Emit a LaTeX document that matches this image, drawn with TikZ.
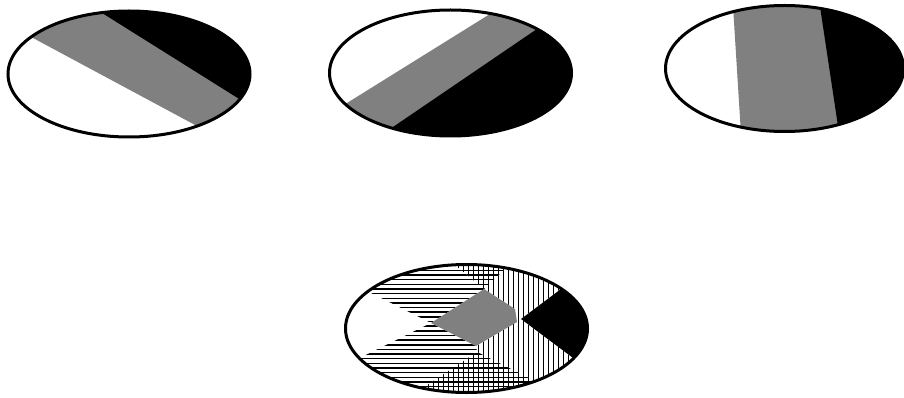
\documentclass[tikz,border=0pt]{standalone}
\tikzset{
  outl/.style={line width=3pt},
  hatch/.style={line width=1.5pt},
}
\newcommand\myHlines{\foreach \k in {-4,...,30} \draw[hatch] (320,{275+4.65*\k}) -- (660,{275+4.65*\k});}
\newcommand\myVlines{\foreach \k in {-35,...,30} \draw[hatch] ({508.3+5*\k},250) -- ({508.3+5*\k},410);}
\begin{document}
\begin{tikzpicture}[x=1pt,y=-1pt]
\useasboundingbox (0,0) rectangle (904,398);
% ---------- ellipse 1 ----------
\begin{scope}
  \clip (129,74) ellipse [x radius=121, y radius=63];
  \fill[white] (0,-10) rectangle (260,160);
  \fill[gray] (0,20.3) -- (260,159.8) -- (260,-10) -- (0,-10) -- cycle;
  \fill[black] (65.4,-10) -- (260,112) -- (260,-10) -- cycle;
\end{scope}
\draw[outl] (129,74) ellipse [x radius=121, y radius=63];
% ---------- ellipse 2 ----------
\begin{scope}
  \clip (450.5,73) ellipse [x radius=121, y radius=63];
  \fill[white] (320,-10) rectangle (590,180);
  \fill[gray] (320,119.8) -- (580,-42) -- (580,180) -- (320,180) -- cycle;
  \fill[black] (320,176.7) -- (580,-0.3) -- (580,180) -- (320,180) -- cycle;
\end{scope}
\draw[outl] (450.5,73) ellipse [x radius=121, y radius=63];
% ---------- ellipse 3 ----------
\begin{scope}
  \clip (784.5,68.5) ellipse [x radius=119, y radius=63];
  \fill[white] (650,-10) rectangle (910,150);
  \fill[gray] (732,-10) -- (742,150) -- (910,150) -- (910,-10) -- cycle;
  \fill[black] (817.5,-10) -- (841.6,150) -- (910,150) -- (910,-10) -- cycle;
\end{scope}
\draw[outl] (784.5,68.5) ellipse [x radius=119, y radius=63];
% ---------- ellipse 4 (superposition) ----------
\begin{scope}
  \clip (466.5,328.5) ellipse [x radius=121, y radius=64];
  \fill[white] (330,250) rectangle (660,410);
  % upper horizontal hatch
  \begin{scope}
    \clip (431,323) -- (330,272.5) -- (330,250) -- (437,250) -- (484,289) -- cycle;
    \myHlines
  \end{scope}
  % lower horizontal hatch
  \begin{scope}
    \clip (431,323) -- (476,346) -- (477,352) -- (397,405) -- (330,405) -- (330,372.5) -- cycle;
    \myHlines
  \end{scope}
  % top cross hatch
  \begin{scope}
    \clip (484,289) -- (437,250) -- (525,250) -- cycle;
    \myHlines \myVlines
  \end{scope}
  % bottom cross hatch
  \begin{scope}
    \clip (477,352) -- (397,405) -- (583,405) -- cycle;
    \myHlines \myVlines
  \end{scope}
  % vertical hatch
  \begin{scope}
    \clip (484,289) -- (525,250) -- (613,250) -- (521,319) -- (636,405) -- (583,405)
          -- (477,352) -- (476,346) -- (517,322) -- (515,309) -- cycle;
    \myVlines
  \end{scope}
  % black wedge
  \fill[black] (521,319) -- (613,250) -- (660,250) -- (660,405) -- (636,405) -- cycle;
  % gray diamond
  \fill[gray] (431,323) -- (484,289) -- (515,309) -- (517,322) -- (476,346) -- cycle;
\end{scope}
\draw[outl] (466.5,328.5) ellipse [x radius=121, y radius=64];
\end{tikzpicture}
\end{document}
